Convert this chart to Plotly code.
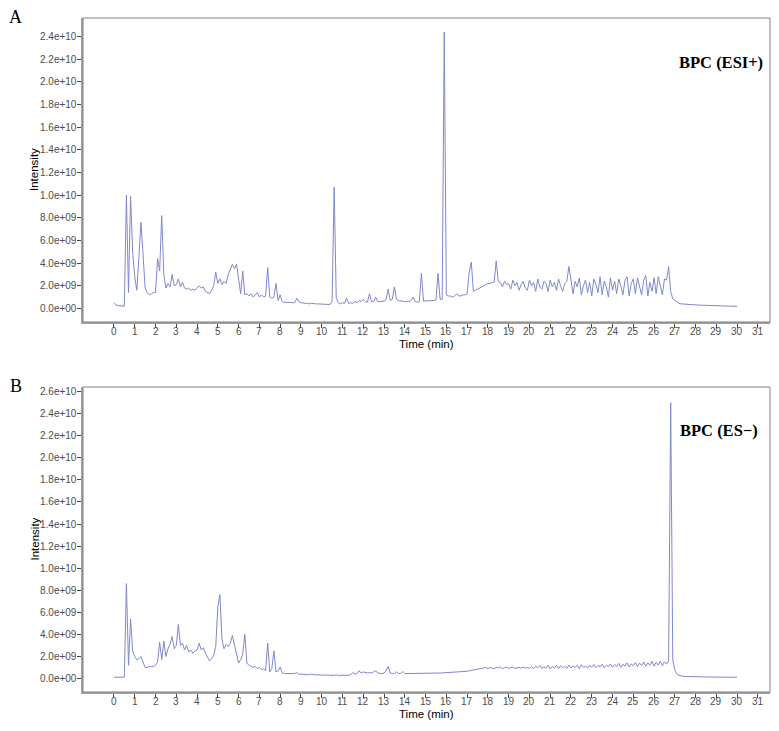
import plotly.graph_objects as go

# ---------------- data (intensity in units of 1e9, sampled every 0.1 min) ----------------
# one row = one minute (10 samples), last value = 30.0 min
intensity_esi_pos = [
    0.5, 0.3, 0.25, 0.25, 0.2, 0.2, 10.0, 1.4, 9.9, 5.0,
    2.8, 1.6, 4.5, 7.6, 4.8, 1.8, 1.4, 1.2, 1.3, 1.4,
    1.4, 4.4, 3.3, 8.2, 3.0, 1.8, 2.2, 1.9, 3.0, 2.0,
    2.1, 2.6, 1.9, 2.3, 1.8, 1.7, 1.8, 1.6, 1.7, 1.6,
    1.8, 2.0, 1.8, 1.9, 1.5, 1.4, 1.3, 1.6, 2.0, 3.2,
    2.2, 2.6, 2.1, 2.4, 2.2, 3.0, 3.4, 3.9, 3.5, 3.9,
    2.6, 1.3, 3.3, 1.2, 1.3, 1.1, 1.3, 1.0, 1.2, 1.4,
    1.0, 1.2, 1.0, 1.1, 3.6, 1.0, 0.9, 1.0, 2.2, 0.7,
    1.2, 0.6, 0.55, 0.55, 0.5, 0.5, 0.55, 0.5, 0.9, 0.6,
    0.5, 0.45, 0.45, 0.45, 0.4, 0.45, 0.4, 0.4, 0.4, 0.38,
    0.35, 0.35, 0.35, 0.35, 0.35, 0.6, 10.7, 0.9, 0.5, 0.4,
    0.5, 0.45, 0.9, 0.45, 0.5, 0.45, 0.6, 0.5, 0.7, 0.6,
    0.8, 0.6, 0.55, 1.3, 0.6, 0.6, 1.0, 0.6, 0.6, 0.6,
    0.65, 0.8, 1.7, 0.7, 0.8, 1.9, 0.8, 0.7, 0.65, 0.6,
    0.6, 0.6, 0.6, 0.7, 1.0, 0.6, 0.55, 0.6, 3.1, 0.65,
    0.65, 0.65, 0.7, 0.7, 0.7, 0.75, 3.1, 0.8, 0.8, 24.4,
    1.2, 1.1, 1.1, 1.0, 1.1, 1.3, 1.1, 1.1, 1.2, 1.2,
    1.3, 3.2, 4.1, 1.5, 1.6, 1.7, 1.8, 1.9, 2.0, 2.1,
    2.2, 2.2, 2.3, 2.3, 4.2, 2.4, 2.3, 1.9, 2.4, 2.1,
    2.2, 1.7, 2.5, 2.0, 2.3, 1.6, 2.1, 2.4, 1.8, 1.6,
    2.5, 2.0, 2.3, 1.5, 2.6, 1.9, 1.7, 2.4, 2.2, 1.5,
    2.5, 1.9, 2.3, 1.6, 2.6, 2.0, 1.5, 2.2, 2.4, 3.7,
    2.6, 1.3, 2.4, 1.9, 2.7, 1.2, 2.0, 2.5, 1.4, 2.3,
    1.1, 2.6, 2.1, 1.4, 2.8, 1.2, 2.4, 1.9, 1.0, 2.7,
    1.6, 2.4, 1.3, 2.6, 2.0, 1.2, 2.5, 2.8, 1.1, 2.2,
    2.6, 1.3, 2.7, 1.8, 1.2, 2.5, 2.9, 1.1, 2.3, 1.5,
    2.7, 1.3, 2.8, 2.0, 1.2, 2.6, 2.5, 3.7, 1.5, 0.85,
    0.7, 0.55, 0.45, 0.4, 0.38, 0.36, 0.35, 0.34, 0.33, 0.32,
    0.31, 0.30, 0.29, 0.28, 0.28, 0.27, 0.26, 0.25, 0.25, 0.24,
    0.23, 0.23, 0.22, 0.21, 0.21, 0.2, 0.2, 0.19, 0.19, 0.18,
    0.18,
]

intensity_es_neg = [
    0.12, 0.12, 0.12, 0.12, 0.12, 0.12, 8.6, 1.2, 5.4, 2.5,
    2.0, 1.7, 1.8, 2.0, 1.5, 1.0, 1.0, 1.1, 1.1, 1.1,
    1.2, 1.5, 3.3, 1.7, 3.4, 2.0, 2.7, 3.1, 3.8, 2.7,
    3.0, 4.9, 3.0, 3.2, 2.6, 3.0, 2.4, 2.6, 2.3, 2.5,
    2.6, 3.2, 2.6, 2.8, 2.3, 2.0, 1.6, 1.8, 2.1, 2.9,
    6.5, 7.6, 3.5, 2.7, 3.1, 2.9, 3.2, 3.9, 3.0, 2.0,
    1.4, 1.7, 2.2, 4.0, 1.4, 1.2, 1.1, 1.0, 1.1, 0.9,
    1.0, 0.8, 0.9, 0.7, 3.2, 0.6, 0.9, 2.5, 0.6, 0.7,
    1.05, 0.5, 0.45, 0.45, 0.45, 0.4, 0.45, 0.45, 0.55, 0.4,
    0.4, 0.38, 0.35, 0.36, 0.34, 0.4, 0.33, 0.32, 0.34, 0.3,
    0.3, 0.32, 0.3, 0.29, 0.28, 0.3, 0.28, 0.35, 0.27, 0.28,
    0.27, 0.27, 0.28, 0.3, 0.35, 0.55, 0.4, 0.45, 0.7, 0.5,
    0.6, 0.55, 0.5, 0.55, 0.5, 0.6, 0.7, 0.5, 0.45, 0.45,
    0.5, 0.7, 1.1, 0.5, 0.45, 0.45, 0.6, 0.45, 0.45, 0.65,
    0.45, 0.45, 0.44, 0.45, 0.46, 0.45, 0.44, 0.46, 0.45, 0.47,
    0.46, 0.47, 0.48, 0.47, 0.48, 0.49, 0.5, 0.5, 0.51, 0.52,
    0.52, 0.53, 0.55, 0.54, 0.56, 0.57, 0.58, 0.6, 0.62, 0.63,
    0.66, 0.7, 0.74, 0.78, 0.82, 0.86, 0.9, 0.93, 0.96, 1.0,
    0.9, 1.0, 0.95, 0.88, 1.02, 0.96, 1.06, 0.9, 0.98, 1.03,
    0.92, 0.99, 1.05, 0.9, 0.97, 1.02, 0.93, 1.04, 0.95, 1.0,
    0.92, 1.06, 0.9, 1.12, 0.97, 1.18, 0.9, 1.05, 0.95, 1.2,
    0.86, 1.1, 0.95, 1.2, 0.9, 1.15, 1.0, 1.08, 0.92, 1.22,
    0.95, 1.15, 1.0, 1.2, 0.9, 1.25, 1.02, 1.12, 0.95, 1.2,
    1.04, 1.28, 0.98, 1.18, 1.05, 1.3, 1.0, 1.22, 1.08, 1.32,
    1.02, 1.28, 1.1, 1.38, 1.02, 1.3, 1.12, 1.42, 1.05, 1.33,
    1.15, 1.45, 1.08, 1.4, 1.18, 1.5, 1.1, 1.42, 1.2, 1.55,
    1.12, 1.48, 1.22, 1.58, 1.15, 1.52, 1.3, 1.6, 25.0, 1.7,
    0.75, 0.4, 0.3, 0.22, 0.2, 0.19, 0.18, 0.17, 0.17, 0.16,
    0.16, 0.15, 0.15, 0.15, 0.14, 0.14, 0.14, 0.14, 0.13, 0.13,
    0.13, 0.13, 0.13, 0.12, 0.12, 0.12, 0.12, 0.12, 0.12, 0.12,
    0.12,
]

time_min = [round(i * 0.1, 1) for i in range(len(intensity_esi_pos))]
time_min_b = [round(i * 0.1, 1) for i in range(len(intensity_es_neg))]

x_tick_vals = list(range(0, 32))
y_tick_text_a = ["0.0e+00", "2.0e+09", "4.0e+09", "6.0e+09", "8.0e+09", "1.0e+10",
                 "1.2e+10", "1.4e+10", "1.6e+10", "1.8e+10", "2.0e+10", "2.2e+10", "2.4e+10"]
y_tick_vals_a = [i * 2e9 for i in range(len(y_tick_text_a))]
y_tick_text_b = y_tick_text_a + ["2.6e+10"]
y_tick_vals_b = [i * 2e9 for i in range(len(y_tick_text_b))]

panel_labels = ["A", "B"]
panel_titles = ["BPC (ESI+)", "BPC (ES\u2212)"]
x_title = "Time (min)"
y_title = "Intensity"

# ---------------- layout helpers ----------------
W, H = 779, 731
def px(x):
    return x / W
def py(y):
    return 1 - y / H

LINE_COLOR = "#8088cc"
SANS = "Liberation Sans, Arial, sans-serif"
SERIF = "Liberation Serif, Times New Roman, serif"
TICK_FONT = dict(family=SANS, size=10, color="#4d4d4d")

fig = go.Figure()
fig.add_trace(go.Scatter(x=time_min, y=[v * 1e9 for v in intensity_esi_pos], mode="lines",
                         line=dict(color=LINE_COLOR, width=1), xaxis="x", yaxis="y",
                         showlegend=False))
fig.add_trace(go.Scatter(x=time_min_b, y=[v * 1e9 for v in intensity_es_neg], mode="lines",
                         line=dict(color=LINE_COLOR, width=1), xaxis="x2", yaxis="y2",
                         showlegend=False))

x_dom = [px(83), px(770)]
a_top, a_bot = 18, 322
b_top, b_bot = 387, 692

common_x = dict(range=[-1.49, 31.58], tickvals=x_tick_vals, ticks="outside", ticklen=4,
                tickwidth=1, tickcolor="#444444", showline=True, linecolor="#a0a0a0",
                linewidth=2, showgrid=False, zeroline=False, showticklabels=False)
common_y = dict(ticks="outside", ticklen=4, tickwidth=1, tickcolor="#444444",
                showline=True, linecolor="#a0a0a0", linewidth=2, showgrid=False,
                zeroline=False, showticklabels=False)

fig.update_layout(
    width=W, height=H, margin=dict(l=0, r=0, t=0, b=0),
    paper_bgcolor="white", plot_bgcolor="white",
    xaxis=dict(domain=x_dom, anchor="y", **common_x),
    yaxis=dict(domain=[py(a_bot), py(a_top)], anchor="x", range=[-1.2e9, 2.565e10],
               tickvals=y_tick_vals_a, **common_y),
    xaxis2=dict(domain=x_dom, anchor="y2", **common_x),
    yaxis2=dict(domain=[py(b_bot), py(b_top)], anchor="x2", range=[-1.22e9, 2.642e10],
                tickvals=y_tick_vals_b, **common_y),
)

shapes = []
for top, bot in [(a_top, a_bot), (b_top, b_bot)]:
    shapes.append(dict(type="rect", xref="paper", yref="paper", x0=px(83), x1=px(770),
                       y0=py(bot), y1=py(top), line=dict(color="#808080", width=1),
                       fillcolor="rgba(0,0,0,0)", layer="above"))
fig.update_layout(shapes=shapes)

annotations = []
panels = [(a_top, a_bot, "x", "y", y_tick_vals_a, y_tick_text_a),
          (b_top, b_bot, "x2", "y2", y_tick_vals_b, y_tick_text_b)]
for i, (top, bot, xr, yr, yvals, ytext) in enumerate(panels):
    # tick labels placed through the axes' own scales
    for v in x_tick_vals:
        annotations.append(dict(text=str(v), x=v, xref=xr, y=py(bot + 9), yref="paper",
                                showarrow=False, xanchor="center", yanchor="middle",
                                font=TICK_FONT))
    for v, t in zip(yvals, ytext):
        annotations.append(dict(text=t, x=px(78.5), xref="paper", y=v, yref=yr,
                                showarrow=False, xanchor="right", yanchor="middle",
                                font=TICK_FONT))
    annotations.append(dict(text=panel_labels[i], x=px(16), y=py(top - 1), xref="paper",
                            yref="paper", showarrow=False, xanchor="center", yanchor="middle",
                            font=dict(family=SERIF, size=18, color="black")))
    annotations.append(dict(text=x_title, x=px(426), y=py(bot + 22), xref="paper",
                            yref="paper", showarrow=False, xanchor="center", yanchor="middle",
                            font=dict(family=SANS, size=11.5, color="black")))
    annotations.append(dict(text=y_title, x=px(34), y=py((top + bot) / 2), xref="paper",
                            yref="paper", showarrow=False, xanchor="center", yanchor="middle",
                            textangle=-90, font=dict(family=SANS, size=11.5, color="black")))
annotations.append(dict(text="<b>" + panel_titles[0] + "</b>", x=px(721), y=py(62),
                        xref="paper", yref="paper", showarrow=False, xanchor="center",
                        yanchor="middle", font=dict(family=SERIF, size=16.5, color="black")))
annotations.append(dict(text="<b>" + panel_titles[1] + "</b>", x=px(719), y=py(431),
                        xref="paper", yref="paper", showarrow=False, xanchor="center",
                        yanchor="middle", font=dict(family=SERIF, size=16.5, color="black")))
fig.update_layout(annotations=annotations)

fig.write_html("out.html")
